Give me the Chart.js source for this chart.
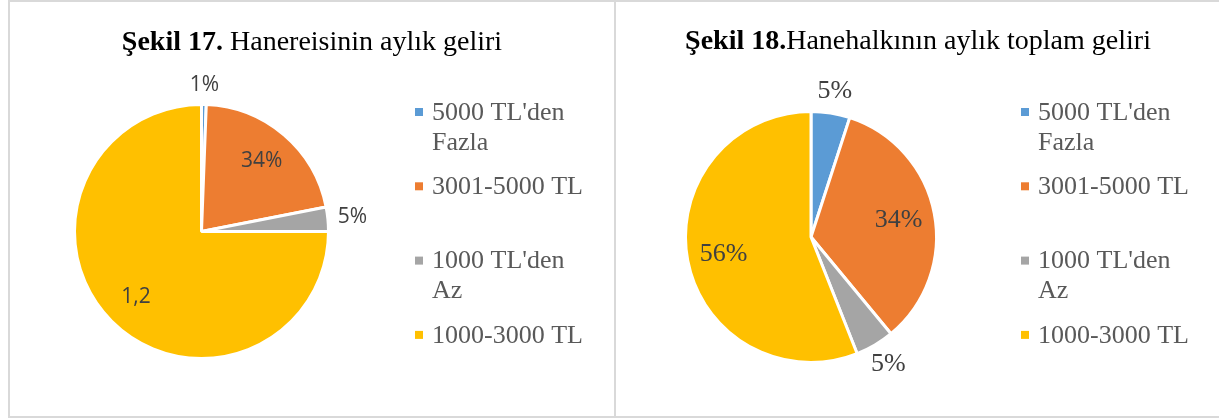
<!DOCTYPE html>
<html>
<head>
<meta charset="utf-8">
<script src="https://cdn.jsdelivr.net/npm/chart.js@4.4.1/dist/chart.umd.min.js"></script>
<style>
body { margin: 0; background: #fff; width: 1219px; height: 419px; overflow: hidden; position: relative; }
.panel { position: absolute; top: 0; height: 418px; box-sizing: border-box; border: 2px solid #d9d9d9; background: #fff; }
#p1 { left: 8px; width: 608px; }
#p2 { left: 616px; width: 608px; border-left: none; }
canvas { display: block; }
</style>
</head>
<body>
<div class="panel" id="p1"><canvas id="chart17" width="604" height="414"></canvas></div>
<div class="panel" id="p2"><canvas id="chart18" width="604" height="414"></canvas></div>

<script>
// Veriler
const categories = ["5000 TL'den Fazla", '3001-5000 TL', "1000 TL'den Az", '1000-3000 TL'];
const sliceColors = ['#5B9BD5', '#ED7D31', '#A5A5A5', '#FFC000'];

// Şekil 17 - dilimler, etiketler resimdeki gibi
const hanereisiValues = [0.6, 21.3, 3.1, 75];
const hanereisiLabels = ['1%', '34%', '5%', '1,2'];

// Şekil 18
const hanehalkiValues = [5, 34, 5, 56];
const hanehalkiLabels = ['5%', '34%', '5%', '56%'];

const labelPlace = ['out', 'in', 'out', 'in'];

// split legend text into lines that fit
function wrapText(ctx, text, maxWidth) {
    const words = text.split(' ');
    const lines = [];
    let line = '';
    words.forEach(w => {
        const test = line ? line + ' ' + w : w;
        if (line && ctx.measureText(test).width > maxWidth) {
            lines.push(line);
            line = w;
        } else {
            line = test;
        }
    });
    lines.push(line);
    return lines;
}

// title with bold "Şekil" part
const sekilTitle = {
    id: 'sekilTitle',
    afterDraw(chart, args, opts) {
        const ctx = chart.ctx;
        ctx.save();
        ctx.textAlign = 'left';
        ctx.textBaseline = 'alphabetic';
        ctx.fillStyle = '#000';
        const bold = 'bold 28px "Liberation Serif"';
        const normal = '28px "Liberation Serif"';
        ctx.font = bold;
        const w1 = ctx.measureText(opts.bold).width;
        ctx.font = normal;
        const w2 = ctx.measureText(opts.text).width;
        const x = chart.width / 2 - (w1 + w2) / 2;
        ctx.font = bold;
        ctx.fillText(opts.bold, x, opts.y);
        ctx.font = normal;
        ctx.fillText(opts.text, x + w1, opts.y);
        ctx.restore();
    }
};

// percentage labels on / beside the slices
const sliceLabels = {
    id: 'sliceLabels',
    afterDatasetsDraw(chart, args, opts) {
        const ctx = chart.ctx;
        const arcs = chart.getDatasetMeta(0).data;
        ctx.save();
        ctx.font = opts.font;
        ctx.fillStyle = opts.color;
        ctx.textAlign = 'center';
        ctx.textBaseline = 'middle';
        arcs.forEach((arc, i) => {
            const p = arc.getProps(['x', 'y', 'startAngle', 'endAngle', 'outerRadius'], true);
            const mid = (p.startAngle + p.endAngle) / 2;
            const cos = Math.cos(mid);
            const sin = Math.sin(mid);
            const text = opts.labels[i];
            let x, y;
            if (opts.place[i] === 'in') {
                x = p.x + cos * p.outerRadius * opts.inside;
                y = p.y + sin * p.outerRadius * opts.inside;
            } else {
                const hw = ctx.measureText(text).width / 2;
                const r = p.outerRadius + opts.gap;
                x = p.x + cos * r + cos * hw;
                y = p.y + sin * r + sin * opts.halfHeight;
            }
            ctx.fillText(text, x, y);
        });
        ctx.restore();
    }
};

// legend on the right
const sideLegend = {
    id: 'sideLegend',
    afterDraw(chart, args, opts) {
        const ctx = chart.ctx;
        const colors = chart.data.datasets[0].backgroundColor;
        ctx.save();
        ctx.font = opts.font;
        ctx.textAlign = 'left';
        ctx.textBaseline = 'middle';
        chart.data.labels.forEach((label, i) => {
            const y = opts.top + i * opts.step;
            ctx.fillStyle = colors[i];
            ctx.fillRect(opts.x, y - opts.box / 2, opts.box, opts.box);
            ctx.fillStyle = opts.color;
            wrapText(ctx, label, opts.maxWidth).forEach((line, j) => {
                ctx.fillText(line, opts.x + opts.textGap, y + j * opts.lineHeight + opts.textShift);
            });
        });
        ctx.restore();
    }
};

function makePie(id, values, labels, title, padding, labelOpts) {
    return new Chart(document.getElementById(id), {
        type: 'pie',
        data: {
            labels: categories,
            datasets: [{
                data: values,
                backgroundColor: sliceColors,
                borderColor: '#ffffff',
                borderWidth: 3
            }]
        },
        options: {
            responsive: false,
            animation: false,
            layout: { padding: padding },
            plugins: {
                legend: { display: false },
                tooltip: { enabled: false },
                sekilTitle: title,
                sliceLabels: Object.assign({ labels: labels, place: labelPlace }, labelOpts),
                sideLegend: {
                    x: 405, top: 110, step: 74.3, box: 8, textGap: 17,
                    lineHeight: 30, textShift: 1, maxWidth: 158,
                    font: '26px "Liberation Serif"', color: '#595959'
                }
            }
        },
        plugins: [sekilTitle, sliceLabels, sideLegend]
    });
}

makePie('chart17', hanereisiValues, hanereisiLabels,
    { bold: 'Şekil 17.', text: ' Hanereisinin aylık geliri', y: 48 },
    { left: 63, top: 101, right: 284, bottom: 56 },
    { font: '21px "Open Sans"', color: '#404040', inside: 0.73, gap: 10, halfHeight: 10 });

makePie('chart18', hanehalkiValues, hanehalkiLabels,
    { bold: 'Şekil 18.', text: 'Hanehalkının aylık toplam geliri', y: 47 },
    { left: 68, top: 108, right: 282, bottom: 52 },
    { font: '26px "Liberation Serif"', color: '#404040', inside: 0.71, gap: 9, halfHeight: 13 });
</script>
</body>
</html>
